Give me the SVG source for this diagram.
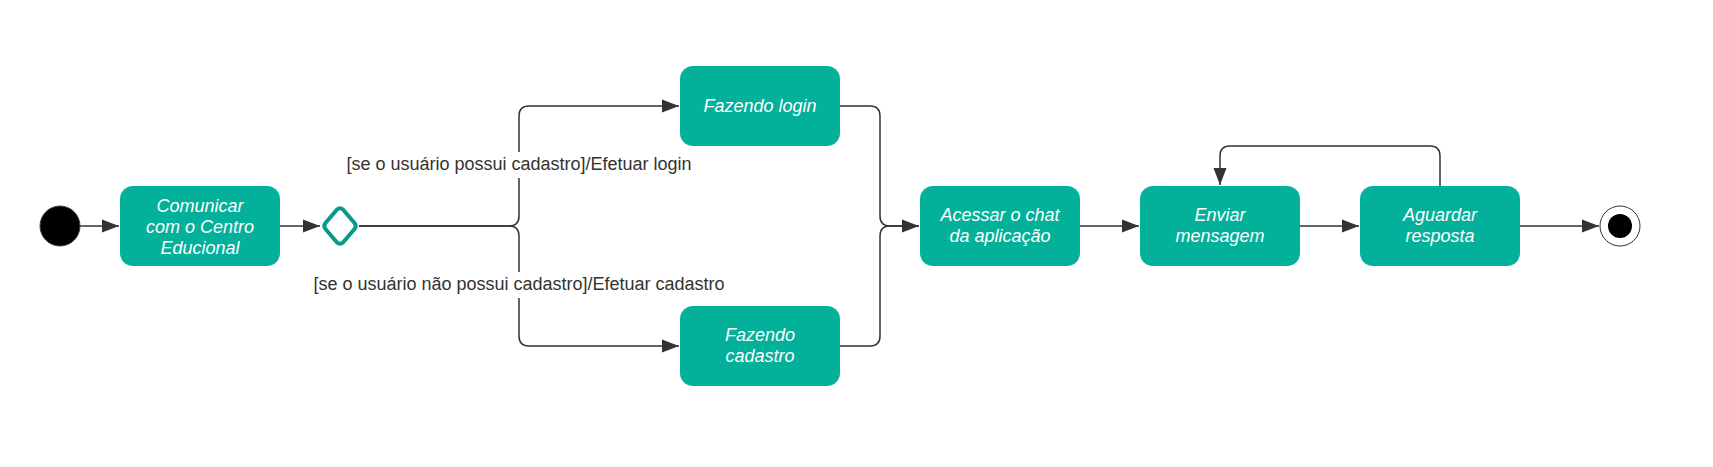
<svg xmlns="http://www.w3.org/2000/svg" width="1713" height="467" viewBox="0 0 1713 467">
<style>
.box{fill:#03B09A;}
.bt{font-family:"Liberation Sans",Arial,sans-serif;font-size:18px;font-style:italic;fill:#ffffff;text-anchor:middle;}
.lbl{font-family:"Liberation Sans",Arial,sans-serif;font-size:18px;fill:#333333;text-anchor:middle;}
.ln{fill:none;stroke:#333333;stroke-width:1.5;}
</style>
<defs>
<marker id="ah" markerWidth="18" markerHeight="14" refX="17" refY="7" orient="auto" markerUnits="userSpaceOnUse">
<path d="M0,0.5 L17,7 L0,13.5 Z" fill="#333333"/>
</marker>
</defs>
<rect width="1713" height="467" fill="#ffffff"/>
<g id="connectors">
<path class="ln" d="M80,226 H119" marker-end="url(#ah)"/>
<path class="ln" d="M280,226 H320" marker-end="url(#ah)"/>
<path class="ln" d="M359,226 H509 Q519,226 519,216 V116 Q519,106 529,106 H679" marker-end="url(#ah)"/>
<path class="ln" d="M359,226 H509 Q519,226 519,236 V336 Q519,346 529,346 H679" marker-end="url(#ah)"/>
<path class="ln" d="M840,106 H870 Q880,106 880,116 V216 Q880,226 890,226 H919" marker-end="url(#ah)"/>
<path class="ln" d="M840,346 H870 Q880,346 880,336 V236 Q880,226 890,226 H919"/>
<path class="ln" d="M1080,226 H1139" marker-end="url(#ah)"/>
<path class="ln" d="M1300,226 H1359" marker-end="url(#ah)"/>
<path class="ln" d="M1440,186 V156 Q1440,146 1430,146 H1230 Q1220,146 1220,156 V185" marker-end="url(#ah)"/>
<path class="ln" d="M1520,226 H1599" marker-end="url(#ah)"/>
<rect x="345" y="152" width="348" height="26" fill="#ffffff"/>
<text class="lbl" x="519" y="170">[se o usuário possui cadastro]/Efetuar login</text>
<rect x="311" y="272" width="416" height="26" fill="#ffffff"/>
<text class="lbl" x="519" y="290">[se o usuário não possui cadastro]/Efetuar cadastro</text>
</g>
<g id="start">
<circle cx="60" cy="226" r="20" fill="#000000" stroke="#444444" stroke-width="1"/>
</g>
<g id="comunicar">
<rect class="box" x="120" y="186" width="160" height="80" rx="13"/>
<text class="bt" x="200" y="212">Comunicar</text>
<text class="bt" x="200" y="233">com o Centro</text>
<text class="bt" x="200" y="254">Educional</text>
</g>
<g id="decision">
<path d="M337,209.5 Q340,207 343,209.5 L354.5,223 Q357,226 354.5,229 L343,242.5 Q340,245 337,242.5 L325.5,229 Q323,226 325.5,223 Z" fill="#ffffff" stroke="#07998A" stroke-width="4" stroke-linejoin="round"/>
</g>
<g id="login">
<rect class="box" x="680" y="66" width="160" height="80" rx="13"/>
<text class="bt" x="760" y="112">Fazendo login</text>
</g>
<g id="cadastro">
<rect class="box" x="680" y="306" width="160" height="80" rx="13"/>
<text class="bt" x="760" y="341">Fazendo</text>
<text class="bt" x="760" y="362">cadastro</text>
</g>
<g id="acessar">
<rect class="box" x="920" y="186" width="160" height="80" rx="13"/>
<text class="bt" x="1000" y="221">Acessar o chat</text>
<text class="bt" x="1000" y="242">da aplicação</text>
</g>
<g id="enviar">
<rect class="box" x="1140" y="186" width="160" height="80" rx="13"/>
<text class="bt" x="1220" y="221">Enviar</text>
<text class="bt" x="1220" y="242">mensagem</text>
</g>
<g id="aguardar">
<rect class="box" x="1360" y="186" width="160" height="80" rx="13"/>
<text class="bt" x="1440" y="221">Aguardar</text>
<text class="bt" x="1440" y="242">resposta</text>
</g>
<g id="end">
<circle cx="1620" cy="226" r="20" fill="#ffffff" stroke="#333333" stroke-width="1"/>
<circle cx="1620" cy="226" r="12" fill="#000000"/>
</g>
</svg>
